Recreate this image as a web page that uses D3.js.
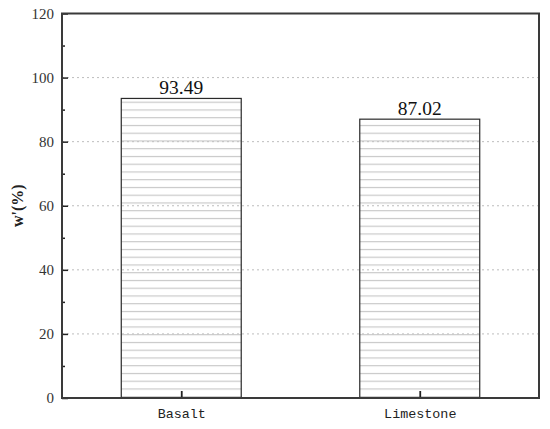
<!DOCTYPE html>
<html>
<head>
<meta charset="utf-8">
<script src="https://cdn.jsdelivr.net/npm/d3@7"></script>
<style>
  body { margin: 0; background: #fff; }
  svg { display: block; }
  .serif { font-family: "Liberation Serif", "Times New Roman", "DejaVu Serif", serif; }
  .mono { font-family: "Liberation Mono", "Courier New", "DejaVu Sans Mono", monospace; }
</style>
</head>
<body>
<div id="chart"></div>
<script>
const categories = ["Basalt", "Limestone"]
const values = [93.49, 87.02]
const valueLabels = ["93.49", "87.02"]
const yTicks = [0, 20, 40, 60, 80, 100, 120]
const yMinorTicks = [10, 30, 50, 70, 90, 110]
const yTitle = "w'(%)"

const width = 550,
    height = 429,
    margin = { top: 13.5, left: 62, right: 11, bottom: 31 },
    innerW = width - margin.left - margin.right,
    innerH = height - margin.top - margin.bottom

const svg = d3.select("#chart").append("svg")
    .attr("width", width)
    .attr("height", height)

// horizontal hatching for the bars
svg.append("defs").append("pattern")
    .attr("id", "hatch")
    .attr("patternUnits", "userSpaceOnUse")
    .attr("width", 10)
    .attr("height", 7.75)
    .append("line")
    .attr("x1", 0).attr("x2", 10)
    .attr("y1", 3.5).attr("y2", 3.5)
    .attr("stroke", "#c4c4c4")
    .attr("stroke-width", 1.1)

const g = svg.append("g")
    .attr("transform", `translate(${margin.left},${margin.top})`)

const x = d3.scalePoint()
    .domain(categories)
    .range([0, innerW])
    .padding(0.5)

const y = d3.scaleLinear()
    .domain([0, 120])
    .range([innerH, 0])

const barW = x.step() * 0.503

// dashed grid
g.selectAll(".grid")
    .data(yTicks.filter(d => d > 0 && d < 120))
    .enter()
    .append("line")
    .attr("x1", 0).attr("x2", innerW)
    .attr("y1", d => y(d)).attr("y2", d => y(d))
    .attr("stroke", "#bdbdbd")
    .attr("stroke-width", 1)
    .attr("stroke-dasharray", "2,3")

// bars
g.selectAll(".bar")
    .data(values)
    .enter()
    .append("rect")
    .attr("x", (d, i) => x(categories[i]) - barW / 2)
    .attr("y", d => y(d))
    .attr("width", barW)
    .attr("height", d => innerH - y(d))
    .attr("fill", "url(#hatch)")
    .attr("stroke", "#2a2a2a")
    .attr("stroke-width", 1.2)

// value labels
g.selectAll(".val")
    .data(values)
    .enter()
    .append("text")
    .attr("class", "serif")
    .attr("x", (d, i) => x(categories[i]))
    .attr("y", d => y(d) - 4)
    .attr("text-anchor", "middle")
    .attr("font-size", 19.5)
    .attr("fill", "#111")
    .text((d, i) => valueLabels[i])

// y axis, ticks inward
const yAxis = g.append("g")
    .call(d3.axisLeft(y).tickValues(yTicks).tickSize(-6).tickPadding(8))
yAxis.attr("font-family", null)
yAxis.select(".domain").remove()
yAxis.selectAll("line").attr("stroke", "#222").attr("stroke-width", 1.5)
yAxis.selectAll("text")
    .attr("class", "serif")
    .attr("font-size", 15)
    .attr("fill", "#333")

const yMinor = g.append("g")
    .call(d3.axisLeft(y).tickValues(yMinorTicks).tickSize(-3).tickFormat(""))
yMinor.select(".domain").remove()
yMinor.selectAll("line").attr("stroke", "#222").attr("stroke-width", 1.5)

// x axis, ticks inward
const xAxis = g.append("g")
    .attr("transform", `translate(0,${innerH})`)
    .call(d3.axisBottom(x).tickSize(-7).tickPadding(10))
xAxis.attr("font-family", null)
xAxis.select(".domain").remove()
xAxis.selectAll("line").attr("stroke", "#222").attr("stroke-width", 1.8)
xAxis.selectAll("text")
    .attr("class", "mono")
    .attr("font-size", 13.4)
    .attr("fill", "#222")

// frame
g.append("rect")
    .attr("width", innerW)
    .attr("height", innerH)
    .attr("fill", "none")
    .attr("stroke", "#3a3a3a")
    .attr("stroke-width", 2)

// y title
svg.append("text")
    .attr("class", "serif")
    .attr("transform", `translate(23,${margin.top + innerH / 2}) rotate(-90)`)
    .attr("text-anchor", "middle")
    .attr("font-weight", "bold")
    .attr("font-size", 16)
    .attr("fill", "#222")
    .text(yTitle)
</script>
</body>
</html>
